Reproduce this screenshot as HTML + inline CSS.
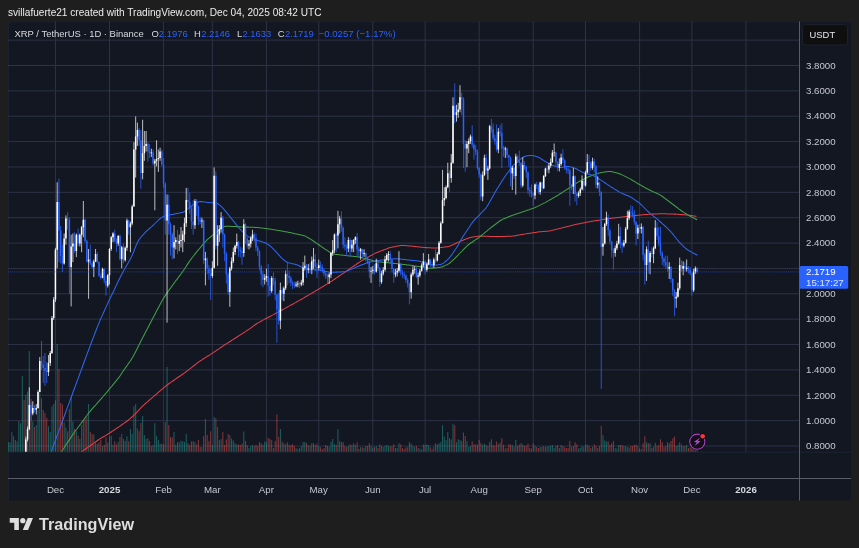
<!DOCTYPE html>
<html><head><meta charset="utf-8"><title>XRP / TetherUS chart</title>
<style>
html,body{margin:0;padding:0;background:#1e1e1e;}
body{width:859px;height:548px;overflow:hidden;position:relative;font-family:"Liberation Sans",sans-serif;}
#hdr{position:absolute;left:8px;top:6.5px;font-size:10.1px;color:#ececec;white-space:nowrap;letter-spacing:0px}
#chart{position:absolute;left:0;top:0;}
#logo{position:absolute;left:0;top:0;pointer-events:none}
</style></head><body>
<div id="hdr">svillafuerte21 created with TradingView.com, Dec 04, 2025 08:42 UTC</div>
<svg id="chart" width="859" height="548" viewBox="0 0 859 548" font-family="Liberation Sans, sans-serif">
<rect x="8" y="21.5" width="843" height="479.0" fill="#131722"/>
<path d="M8.5 500.5V22.0H851" fill="none" stroke="#1c2131" stroke-width="1"/>

<g stroke="#2d3246" stroke-width="1">
<line x1="8" y1="40.13333333333331" x2="799.5" y2="40.13333333333331"/>
<line x1="8" y1="65.5" x2="799.5" y2="65.5"/>
<line x1="8" y1="90.86666666666669" x2="799.5" y2="90.86666666666669"/>
<line x1="8" y1="116.23333333333332" x2="799.5" y2="116.23333333333332"/>
<line x1="8" y1="141.60000000000002" x2="799.5" y2="141.60000000000002"/>
<line x1="8" y1="166.96666666666664" x2="799.5" y2="166.96666666666664"/>
<line x1="8" y1="192.33333333333331" x2="799.5" y2="192.33333333333331"/>
<line x1="8" y1="217.70000000000002" x2="799.5" y2="217.70000000000002"/>
<line x1="8" y1="243.06666666666672" x2="799.5" y2="243.06666666666672"/>
<line x1="8" y1="268.4333333333334" x2="799.5" y2="268.4333333333334"/>
<line x1="8" y1="293.79999999999995" x2="799.5" y2="293.79999999999995"/>
<line x1="8" y1="319.16666666666663" x2="799.5" y2="319.16666666666663"/>
<line x1="8" y1="344.53333333333336" x2="799.5" y2="344.53333333333336"/>
<line x1="8" y1="369.90000000000003" x2="799.5" y2="369.90000000000003"/>
<line x1="8" y1="395.2666666666667" x2="799.5" y2="395.2666666666667"/>
<line x1="8" y1="420.6333333333334" x2="799.5" y2="420.6333333333334"/>
<line x1="8" y1="446.0" x2="799.5" y2="446.0"/>
<line x1="55.45" y1="21.5" x2="55.45" y2="452"/>
<line x1="109.5" y1="21.5" x2="109.5" y2="452"/>
<line x1="163.56" y1="21.5" x2="163.56" y2="452"/>
<line x1="212.38" y1="21.5" x2="212.38" y2="452"/>
<line x1="266.44" y1="21.5" x2="266.44" y2="452"/>
<line x1="318.75" y1="21.5" x2="318.75" y2="452"/>
<line x1="372.8" y1="21.5" x2="372.8" y2="452"/>
<line x1="425.11" y1="21.5" x2="425.11" y2="452"/>
<line x1="479.17" y1="21.5" x2="479.17" y2="452"/>
<line x1="533.22" y1="21.5" x2="533.22" y2="452"/>
<line x1="585.53" y1="21.5" x2="585.53" y2="452"/>
<line x1="639.59" y1="21.5" x2="639.59" y2="452"/>
<line x1="691.9" y1="21.5" x2="691.9" y2="452"/>
<line x1="745.96" y1="21.5" x2="745.96" y2="452"/>
</g>
<clipPath id="pc"><rect x="8" y="21.5" width="791.5" height="430.5"/></clipPath>
<g clip-path="url(#pc)">
<path d="M8.37 452v-10.0M10.11 452v-9.5M11.86 452v-20.0M13.60 452v-15.7M17.09 452v-10.7M18.83 452v-31.0M20.58 452v-28.8M22.32 452v-76.0M25.81 452v-57.0M27.55 452v-60.5M29.29 452v-101.0M32.78 452v-30.6M36.27 452v-27.0M38.01 452v-42.0M39.76 452v-63.0M48.48 452v-25.7M50.22 452v-20.0M51.96 452v-45.6M53.71 452v-48.0M55.45 452v-51.8M57.19 452v-108.0M64.17 452v-29.4M65.91 452v-24.4M71.14 452v-55.0M72.89 452v-30.6M76.37 452v-20.7M79.86 452v-13.2M81.61 452v-27.0M83.35 452v-32.0M88.58 452v-48.0M93.81 452v-17.6M95.56 452v-9.5M102.53 452v-5.7M107.76 452v-9.5M109.50 452v-15.7M111.25 452v-16.3M112.99 452v-7.0M118.22 452v-10.0M121.71 452v-18.0M125.20 452v-11.0M126.94 452v-15.7M130.43 452v-23.0M132.17 452v-18.0M133.92 452v-45.8M135.66 452v-48.0M137.40 452v-23.4M142.63 452v-36.0M144.38 452v-17.0M146.12 452v-13.0M151.35 452v-5.7M154.84 452v-28.8M156.58 452v-16.3M158.33 452v-12.0M160.07 452v-8.2M167.05 452v-85.0M174.02 452v-20.0M175.77 452v-7.2M179.25 452v-9.5M181.00 452v-11.3M182.74 452v-10.7M184.48 452v-10.0M186.23 452v-18.0M194.95 452v-10.0M201.92 452v-5.0M205.41 452v-33.0M212.38 452v-7.0M214.13 452v-35.0M217.61 452v-25.0M219.36 452v-12.0M221.10 452v-13.0M229.82 452v-17.0M231.56 452v-13.4M233.31 452v-11.5M235.05 452v-8.8M236.79 452v-7.4M243.77 452v-20.5M249.00 452v-4.0M250.74 452v-6.0M252.49 452v-7.0M264.69 452v-10.6M266.44 452v-9.7M271.67 452v-12.0M280.39 452v-23.0M283.87 452v-8.8M285.62 452v-7.8M296.08 452v-4.0M297.82 452v-3.0M301.31 452v-6.0M303.06 452v-10.0M304.80 452v-10.0M308.29 452v-7.0M311.77 452v-8.8M313.52 452v-9.0M318.75 452v-6.0M329.21 452v-5.0M330.95 452v-10.0M332.70 452v-13.0M334.44 452v-7.8M337.93 452v-22.7M339.67 452v-11.0M348.39 452v-6.0M351.88 452v-7.0M353.62 452v-8.8M355.37 452v-7.0M360.60 452v-4.7M364.08 452v-4.0M371.06 452v-6.0M372.80 452v-4.0M376.29 452v-6.0M381.52 452v-6.0M383.27 452v-5.0M385.01 452v-6.0M386.75 452v-7.0M388.50 452v-6.0M395.47 452v-4.0M397.22 452v-4.0M398.96 452v-8.8M411.16 452v-8.2M412.91 452v-6.0M414.65 452v-5.0M418.14 452v-4.0M419.88 452v-3.5M421.63 452v-2.8M423.37 452v-7.4M426.86 452v-7.4M428.60 452v-7.0M433.83 452v-5.0M437.32 452v-7.4M439.06 452v-8.8M440.81 452v-10.0M442.55 452v-26.8M444.30 452v-15.3M446.04 452v-12.0M447.78 452v-20.0M451.27 452v-12.5M453.01 452v-28.3M456.50 452v-9.7M458.24 452v-12.8M459.99 452v-12.0M466.96 452v-11.0M468.71 452v-5.0M470.45 452v-6.0M482.66 452v-7.3M484.40 452v-8.2M487.89 452v-6.0M489.63 452v-10.0M498.35 452v-7.8M505.32 452v-3.5M512.30 452v-7.0M515.79 452v-12.0M522.76 452v-7.4M534.97 452v-6.3M540.20 452v-5.0M543.69 452v-6.0M545.43 452v-5.0M548.92 452v-6.0M550.66 452v-6.3M552.40 452v-7.0M554.15 452v-4.0M559.38 452v-4.0M561.12 452v-7.0M573.33 452v-6.0M578.56 452v-3.5M580.30 452v-4.0M582.05 452v-6.0M585.53 452v-7.4M587.28 452v-7.4M592.51 452v-5.0M597.74 452v-4.0M602.97 452v-16.8M604.72 452v-11.5M606.46 452v-10.6M615.18 452v-4.0M616.92 452v-3.5M618.67 452v-7.0M623.90 452v-6.0M625.64 452v-5.6M627.38 452v-5.0M629.13 452v-4.5M637.85 452v-6.0M641.33 452v-3.0M646.56 452v-9.7M650.05 452v-8.8M653.54 452v-5.0M655.28 452v-9.3M669.23 452v-8.8M676.21 452v-6.0M677.95 452v-7.0M679.69 452v-9.7M683.18 452v-6.0M686.67 452v-7.0M693.64 452v-8.0M695.39 452v-5.0" stroke="#26a69a" stroke-opacity="0.5" stroke-width="1.05" fill="none"/>
<path d="M15.34 452v-12.0M24.06 452v-52.0M31.04 452v-53.0M34.53 452v-25.0M41.50 452v-53.7M43.24 452v-42.0M44.99 452v-39.0M46.73 452v-34.0M58.94 452v-83.0M60.68 452v-49.0M62.42 452v-47.4M67.66 452v-20.7M69.40 452v-43.0M74.63 452v-23.0M78.12 452v-16.3M85.09 452v-33.0M86.84 452v-35.6M90.32 452v-20.0M92.07 452v-18.0M97.30 452v-8.2M99.04 452v-9.5M100.79 452v-12.0M104.27 452v-7.0M106.02 452v-14.4M114.74 452v-10.7M116.48 452v-7.6M119.97 452v-15.0M123.45 452v-13.0M128.69 452v-10.7M139.15 452v-20.7M140.89 452v-29.0M147.87 452v-13.8M149.61 452v-11.0M153.10 452v-7.0M161.82 452v-8.2M163.56 452v-7.6M165.30 452v-30.0M168.79 452v-27.0M170.53 452v-15.0M172.28 452v-14.4M177.51 452v-10.0M187.97 452v-8.8M189.71 452v-7.0M191.46 452v-10.5M193.20 452v-10.7M196.69 452v-7.6M198.43 452v-12.0M200.18 452v-5.0M203.66 452v-16.0M207.15 452v-17.0M208.90 452v-10.7M210.64 452v-20.7M215.87 452v-33.7M222.85 452v-20.0M224.59 452v-7.0M226.33 452v-12.5M228.08 452v-18.0M238.54 452v-7.4M240.28 452v-7.0M242.03 452v-8.4M245.51 452v-11.0M247.26 452v-7.0M254.23 452v-6.0M255.98 452v-7.3M257.72 452v-6.0M259.46 452v-9.7M261.21 452v-8.8M262.95 452v-7.0M268.18 452v-14.3M269.93 452v-13.0M273.41 452v-4.0M275.16 452v-11.0M276.90 452v-37.6M278.64 452v-15.0M282.13 452v-10.6M287.36 452v-9.7M289.11 452v-7.0M290.85 452v-7.0M292.59 452v-7.8M294.34 452v-6.0M299.57 452v-4.0M306.54 452v-9.0M310.03 452v-6.0M315.26 452v-7.0M317.00 452v-8.4M320.49 452v-4.7M322.24 452v-3.0M323.98 452v-4.0M325.72 452v-7.0M327.47 452v-6.0M336.19 452v-7.0M341.42 452v-10.0M343.16 452v-9.7M344.90 452v-6.0M346.65 452v-5.0M350.14 452v-7.8M357.11 452v-9.7M358.85 452v-3.0M362.34 452v-4.7M365.83 452v-6.0M367.57 452v-6.0M369.32 452v-9.0M374.55 452v-5.0M378.03 452v-4.0M379.78 452v-7.8M390.24 452v-6.0M391.98 452v-5.4M393.73 452v-7.8M400.70 452v-7.4M402.45 452v-4.0M404.19 452v-3.0M405.93 452v-4.7M407.68 452v-4.7M409.42 452v-9.7M416.40 452v-6.0M425.11 452v-7.0M430.35 452v-4.7M432.09 452v-3.0M435.58 452v-8.8M449.53 452v-13.8M454.76 452v-26.8M461.73 452v-11.0M463.48 452v-19.5M465.22 452v-16.0M472.19 452v-10.6M473.94 452v-7.8M475.68 452v-7.4M477.43 452v-7.3M479.17 452v-12.0M480.91 452v-9.0M486.14 452v-7.3M491.38 452v-12.8M493.12 452v-7.0M494.86 452v-6.3M496.61 452v-10.6M500.09 452v-9.0M501.84 452v-13.8M503.58 452v-7.0M507.07 452v-4.0M508.81 452v-7.8M510.56 452v-7.4M514.04 452v-5.0M517.53 452v-6.0M519.27 452v-7.4M521.02 452v-8.8M524.51 452v-6.3M526.25 452v-6.0M527.99 452v-8.2M529.74 452v-4.0M531.48 452v-3.5M533.22 452v-8.8M536.71 452v-5.0M538.45 452v-4.0M541.94 452v-5.0M547.17 452v-5.4M555.89 452v-6.0M557.64 452v-7.0M562.87 452v-6.0M564.61 452v-4.7M566.35 452v-4.0M568.10 452v-4.0M569.84 452v-11.0M571.59 452v-5.0M575.07 452v-9.7M576.82 452v-7.8M583.79 452v-5.0M589.02 452v-6.3M590.77 452v-4.0M594.25 452v-7.4M596.00 452v-6.0M599.48 452v-6.0M601.23 452v-26.0M608.20 452v-10.6M609.95 452v-7.0M611.69 452v-8.8M613.43 452v-11.0M620.41 452v-7.0M622.15 452v-7.0M630.87 452v-6.0M632.61 452v-6.0M634.36 452v-7.0M636.10 452v-7.4M639.59 452v-3.5M643.08 452v-8.8M644.82 452v-15.8M648.31 452v-8.8M651.80 452v-4.0M657.03 452v-6.3M658.77 452v-7.0M660.51 452v-12.8M662.26 452v-9.7M664.00 452v-5.0M665.75 452v-6.0M667.49 452v-9.7M670.98 452v-11.0M672.72 452v-13.4M674.46 452v-15.6M681.44 452v-7.4M684.93 452v-6.0M688.41 452v-4.0M690.16 452v-4.7M691.90 452v-7.4M697.13 452v-3.0" stroke="#ef5350" stroke-opacity="0.5" stroke-width="1.05" fill="none"/>
<path d="M79.5 453.7 L80.5 452.8 L81.5 451.9 L82.5 451.1 L83.5 450.4 L84.5 449.7 L85.5 449.0 L86.5 448.3 L87.5 447.6 L88.5 446.9 L89.5 446.2 L90.5 445.5 L91.5 444.8 L92.5 444.1 L93.5 443.4 L94.5 442.6 L95.5 441.9 L96.5 441.2 L97.5 440.5 L98.5 439.8 L99.5 439.1 L100.5 438.5 L101.5 437.9 L102.5 437.3 L103.5 436.7 L104.5 436.2 L105.5 435.6 L106.5 435.0 L107.5 434.4 L108.5 433.8 L109.5 433.2 L110.5 432.5 L111.5 431.8 L112.5 431.1 L113.5 430.5 L114.5 429.8 L115.5 429.1 L116.5 428.4 L117.5 427.7 L118.5 427.1 L119.5 426.4 L120.5 425.7 L121.5 425.0 L122.5 424.3 L123.5 423.6 L124.5 422.9 L125.5 422.2 L126.5 421.5 L127.5 420.8 L128.5 420.0 L129.5 419.2 L130.5 418.3 L131.5 417.4 L132.5 416.5 L133.5 415.6 L134.5 414.7 L135.5 413.7 L136.5 412.6 L137.5 411.5 L138.5 410.4 L139.5 409.4 L140.5 408.3 L141.5 407.2 L142.5 406.2 L143.5 405.3 L144.5 404.4 L145.5 403.5 L146.5 402.7 L147.5 401.8 L148.5 400.9 L149.5 400.0 L150.5 399.2 L151.5 398.3 L152.5 397.4 L153.5 396.6 L154.5 395.7 L155.5 394.8 L156.5 394.0 L157.5 393.1 L158.5 392.2 L159.5 391.3 L160.5 390.5 L161.5 389.6 L162.5 388.8 L163.5 388.0 L164.5 387.1 L165.5 386.3 L166.5 385.5 L167.5 384.8 L168.5 384.0 L169.5 383.3 L170.5 382.6 L171.5 381.9 L172.5 381.2 L173.5 380.5 L174.5 379.8 L175.5 379.1 L176.5 378.4 L177.5 377.7 L178.5 377.0 L179.5 376.3 L180.5 375.7 L181.5 375.0 L182.5 374.3 L183.5 373.6 L184.5 372.9 L185.5 372.2 L186.5 371.4 L187.5 370.7 L188.5 369.9 L189.5 369.1 L190.5 368.3 L191.5 367.6 L192.5 366.8 L193.5 366.0 L194.5 365.2 L195.5 364.5 L196.5 363.7 L197.5 362.9 L198.5 362.2 L199.5 361.4 L200.5 360.7 L201.5 360.1 L202.5 359.4 L203.5 358.8 L204.5 358.2 L205.5 357.6 L206.5 356.9 L207.5 356.3 L208.5 355.7 L209.5 355.1 L210.5 354.4 L211.5 353.8 L212.5 353.1 L213.5 352.4 L214.5 351.8 L215.5 351.1 L216.5 350.4 L217.5 349.7 L218.5 349.1 L219.5 348.4 L220.5 347.7 L221.5 347.0 L222.5 346.4 L223.5 345.7 L224.5 345.0 L225.5 344.4 L226.5 343.7 L227.5 343.1 L228.5 342.5 L229.5 341.8 L230.5 341.2 L231.5 340.5 L232.5 339.9 L233.5 339.2 L234.5 338.6 L235.5 338.0 L236.5 337.3 L237.5 336.7 L238.5 336.0 L239.5 335.4 L240.5 334.8 L241.5 334.1 L242.5 333.5 L243.5 332.9 L244.5 332.2 L245.5 331.6 L246.5 330.9 L247.5 330.3 L248.5 329.6 L249.5 328.9 L250.5 328.2 L251.5 327.4 L252.5 326.7 L253.5 325.9 L254.5 325.2 L255.5 324.5 L256.5 323.8 L257.5 323.2 L258.5 322.6 L259.5 322.1 L260.5 321.5 L261.5 321.0 L262.5 320.4 L263.5 319.9 L264.5 319.4 L265.5 318.8 L266.5 318.3 L267.5 317.8 L268.5 317.2 L269.5 316.7 L270.5 316.2 L271.5 315.6 L272.5 315.1 L273.5 314.6 L274.5 314.0 L275.5 313.5 L276.5 312.9 L277.5 312.4 L278.5 311.9 L279.5 311.3 L280.5 310.8 L281.5 310.2 L282.5 309.7 L283.5 309.2 L284.5 308.6 L285.5 308.1 L286.5 307.5 L287.5 307.0 L288.5 306.4 L289.5 305.9 L290.5 305.3 L291.5 304.8 L292.5 304.2 L293.5 303.7 L294.5 303.1 L295.5 302.6 L296.5 302.0 L297.5 301.5 L298.5 300.9 L299.5 300.4 L300.5 299.8 L301.5 299.2 L302.5 298.7 L303.5 298.1 L304.5 297.5 L305.5 296.9 L306.5 296.3 L307.5 295.7 L308.5 295.1 L309.5 294.6 L310.5 294.0 L311.5 293.4 L312.5 292.8 L313.5 292.2 L314.5 291.6 L315.5 291.0 L316.5 290.4 L317.5 289.8 L318.5 289.2 L319.5 288.6 L320.5 288.0 L321.5 287.4 L322.5 286.8 L323.5 286.2 L324.5 285.6 L325.5 285.0 L326.5 284.4 L327.5 283.8 L328.5 283.2 L329.5 282.5 L330.5 281.9 L331.5 281.3 L332.5 280.6 L333.5 279.9 L334.5 279.2 L335.5 278.5 L336.5 277.9 L337.5 277.2 L338.5 276.5 L339.5 275.8 L340.5 275.1 L341.5 274.4 L342.5 273.8 L343.5 273.1 L344.5 272.4 L345.5 271.7 L346.5 271.0 L347.5 270.3 L348.5 269.6 L349.5 269.0 L350.5 268.3 L351.5 267.6 L352.5 266.9 L353.5 266.2 L354.5 265.5 L355.5 264.9 L356.5 264.2 L357.5 263.5 L358.5 262.8 L359.5 262.1 L360.5 261.5 L361.5 260.9 L362.5 260.3 L363.5 259.8 L364.5 259.2 L365.5 258.6 L366.5 258.1 L367.5 257.5 L368.5 256.9 L369.5 256.4 L370.5 255.8 L371.5 255.2 L372.5 254.7 L373.5 254.1 L374.5 253.6 L375.5 253.1 L376.5 252.7 L377.5 252.3 L378.5 251.9 L379.5 251.5 L380.5 251.1 L381.5 250.8 L382.5 250.4 L383.5 250.0 L384.5 249.6 L385.5 249.3 L386.5 248.9 L387.5 248.5 L388.5 248.1 L389.5 247.8 L390.5 247.5 L391.5 247.3 L392.5 247.0 L393.5 246.9 L394.5 246.7 L395.5 246.5 L396.5 246.3 L397.5 246.1 L398.5 245.9 L399.5 245.7 L400.5 245.5 L401.5 245.5 L402.5 245.4 L403.5 245.5 L404.5 245.5 L405.5 245.6 L406.5 245.7 L407.5 245.8 L408.5 245.9 L409.5 246.0 L410.5 246.0 L411.5 246.1 L412.5 246.2 L413.5 246.3 L414.5 246.4 L415.5 246.5 L416.5 246.7 L417.5 246.8 L418.5 246.9 L419.5 247.0 L420.5 247.1 L421.5 247.2 L422.5 247.3 L423.5 247.4 L424.5 247.5 L425.5 247.6 L426.5 247.6 L427.5 247.7 L428.5 247.7 L429.5 247.8 L430.5 247.8 L431.5 247.9 L432.5 247.9 L433.5 248.0 L434.5 248.0 L435.5 248.0 L436.5 248.0 L437.5 247.9 L438.5 247.8 L439.5 247.7 L440.5 247.6 L441.5 247.4 L442.5 247.3 L443.5 247.2 L444.5 247.1 L445.5 247.0 L446.5 246.8 L447.5 246.7 L448.5 246.5 L449.5 246.2 L450.5 245.8 L451.5 245.4 L452.5 244.9 L453.5 244.5 L454.5 244.0 L455.5 243.5 L456.5 243.0 L457.5 242.6 L458.5 242.1 L459.5 241.6 L460.5 241.2 L461.5 240.8 L462.5 240.4 L463.5 240.0 L464.5 239.6 L465.5 239.2 L466.5 238.8 L467.5 238.4 L468.5 238.0 L469.5 237.7 L470.5 237.4 L471.5 237.2 L472.5 237.0 L473.5 236.9 L474.5 236.7 L475.5 236.6 L476.5 236.4 L477.5 236.3 L478.5 236.2 L479.5 236.1 L480.5 236.1 L481.5 236.1 L482.5 236.1 L483.5 236.2 L484.5 236.2 L485.5 236.2 L486.5 236.3 L487.5 236.3 L488.5 236.3 L489.5 236.4 L490.5 236.4 L491.5 236.4 L492.5 236.5 L493.5 236.5 L494.5 236.5 L495.5 236.6 L496.5 236.6 L497.5 236.6 L498.5 236.5 L499.5 236.5 L500.5 236.5 L501.5 236.5 L502.5 236.4 L503.5 236.4 L504.5 236.4 L505.5 236.4 L506.5 236.3 L507.5 236.3 L508.5 236.3 L509.5 236.3 L510.5 236.3 L511.5 236.2 L512.5 236.1 L513.5 236.0 L514.5 235.9 L515.5 235.7 L516.5 235.5 L517.5 235.3 L518.5 235.1 L519.5 235.0 L520.5 234.8 L521.5 234.6 L522.5 234.4 L523.5 234.2 L524.5 234.1 L525.5 233.9 L526.5 233.8 L527.5 233.6 L528.5 233.5 L529.5 233.3 L530.5 233.2 L531.5 233.0 L532.5 232.8 L533.5 232.7 L534.5 232.5 L535.5 232.4 L536.5 232.2 L537.5 232.1 L538.5 232.0 L539.5 231.8 L540.5 231.7 L541.5 231.7 L542.5 231.6 L543.5 231.5 L544.5 231.4 L545.5 231.3 L546.5 231.3 L547.5 231.2 L548.5 231.1 L549.5 230.9 L550.5 230.8 L551.5 230.6 L552.5 230.3 L553.5 230.1 L554.5 229.8 L555.5 229.6 L556.5 229.3 L557.5 229.1 L558.5 228.8 L559.5 228.6 L560.5 228.3 L561.5 228.1 L562.5 227.8 L563.5 227.6 L564.5 227.3 L565.5 227.0 L566.5 226.8 L567.5 226.5 L568.5 226.3 L569.5 226.0 L570.5 225.8 L571.5 225.5 L572.5 225.2 L573.5 225.0 L574.5 224.8 L575.5 224.5 L576.5 224.3 L577.5 224.1 L578.5 223.9 L579.5 223.7 L580.5 223.5 L581.5 223.3 L582.5 223.1 L583.5 222.9 L584.5 222.7 L585.5 222.5 L586.5 222.3 L587.5 222.1 L588.5 221.9 L589.5 221.7 L590.5 221.5 L591.5 221.3 L592.5 221.2 L593.5 221.0 L594.5 220.8 L595.5 220.7 L596.5 220.5 L597.5 220.4 L598.5 220.2 L599.5 220.1 L600.5 219.9 L601.5 219.8 L602.5 219.6 L603.5 219.5 L604.5 219.3 L605.5 219.2 L606.5 219.0 L607.5 218.9 L608.5 218.7 L609.5 218.6 L610.5 218.4 L611.5 218.3 L612.5 218.1 L613.5 218.0 L614.5 217.9 L615.5 217.8 L616.5 217.7 L617.5 217.5 L618.5 217.4 L619.5 217.3 L620.5 217.2 L621.5 217.1 L622.5 216.9 L623.5 216.8 L624.5 216.7 L625.5 216.6 L626.5 216.5 L627.5 216.4 L628.5 216.2 L629.5 216.1 L630.5 216.0 L631.5 215.9 L632.5 215.8 L633.5 215.7 L634.5 215.6 L635.5 215.5 L636.5 215.4 L637.5 215.3 L638.5 215.2 L639.5 215.1 L640.5 215.0 L641.5 214.9 L642.5 214.8 L643.5 214.7 L644.5 214.6 L645.5 214.5 L646.5 214.4 L647.5 214.4 L648.5 214.3 L649.5 214.3 L650.5 214.2 L651.5 214.2 L652.5 214.1 L653.5 214.1 L654.5 214.0 L655.5 214.0 L656.5 213.9 L657.5 213.9 L658.5 213.8 L659.5 213.8 L660.5 213.7 L661.5 213.7 L662.5 213.8 L663.5 213.8 L664.5 213.8 L665.5 213.8 L666.5 213.9 L667.5 213.9 L668.5 213.9 L669.5 213.9 L670.5 214.0 L671.5 214.0 L672.5 214.0 L673.5 214.1 L674.5 214.1 L675.5 214.1 L676.5 214.2 L677.5 214.3 L678.5 214.3 L679.5 214.4 L680.5 214.5 L681.5 214.6 L682.5 214.6 L683.5 214.7 L684.5 214.8 L685.5 214.9 L686.5 215.0 L687.5 215.1 L688.5 215.2 L689.5 215.3 L690.5 215.5 L691.5 215.6 L692.5 215.7 L693.5 215.9 L694.5 216.0 L695.5 216.2 L696.5 216.3" stroke="#e0404a" stroke-width="1.05" fill="none" stroke-linejoin="round"/>
<path d="M60.1 453.7 L61.1 452.2 L62.1 450.7 L63.1 449.2 L64.1 447.7 L65.1 446.1 L66.1 444.6 L67.1 443.1 L68.1 441.6 L69.1 440.1 L70.1 438.6 L71.1 437.1 L72.1 435.6 L73.1 434.1 L74.1 432.7 L75.1 431.3 L76.1 430.0 L77.1 428.7 L78.1 427.3 L79.1 426.0 L80.1 424.6 L81.1 423.3 L82.1 421.9 L83.1 420.6 L84.1 419.2 L85.1 417.9 L86.1 416.5 L87.1 415.2 L88.1 413.8 L89.1 412.5 L90.1 411.3 L91.1 410.1 L92.1 408.9 L93.1 407.8 L94.1 406.7 L95.1 405.6 L96.1 404.5 L97.1 403.3 L98.1 402.2 L99.1 401.1 L100.1 399.9 L101.1 398.8 L102.1 397.6 L103.1 396.5 L104.1 395.3 L105.1 394.2 L106.1 393.0 L107.1 391.8 L108.1 390.6 L109.1 389.4 L110.1 388.2 L111.1 387.0 L112.1 385.8 L113.1 384.6 L114.1 383.4 L115.1 382.2 L116.1 380.9 L117.1 379.7 L118.1 378.4 L119.1 377.1 L120.1 375.7 L121.1 374.2 L122.1 372.7 L123.1 371.2 L124.1 369.7 L125.1 368.3 L126.1 366.9 L127.1 365.5 L128.1 364.0 L129.1 362.6 L130.1 361.2 L131.1 359.7 L132.1 358.1 L133.1 356.4 L134.1 354.6 L135.1 352.7 L136.1 350.7 L137.1 348.7 L138.1 346.7 L139.1 344.7 L140.1 342.7 L141.1 340.7 L142.1 338.8 L143.1 336.8 L144.1 334.9 L145.1 333.0 L146.1 331.1 L147.1 329.2 L148.1 327.2 L149.1 325.3 L150.1 323.4 L151.1 321.5 L152.1 319.6 L153.1 317.7 L154.1 315.8 L155.1 313.9 L156.1 312.0 L157.1 310.1 L158.1 308.2 L159.1 306.3 L160.1 304.4 L161.1 302.5 L162.1 300.7 L163.1 299.0 L164.1 297.4 L165.1 295.9 L166.1 294.4 L167.1 292.9 L168.1 291.5 L169.1 290.0 L170.1 288.6 L171.1 287.3 L172.1 285.9 L173.1 284.5 L174.1 283.1 L175.1 281.8 L176.1 280.4 L177.1 279.1 L178.1 277.7 L179.1 276.4 L180.1 275.1 L181.1 273.7 L182.1 272.4 L183.1 271.0 L184.1 269.5 L185.1 268.0 L186.1 266.5 L187.1 264.9 L188.1 263.4 L189.1 261.9 L190.1 260.5 L191.1 259.1 L192.1 257.8 L193.1 256.5 L194.1 255.2 L195.1 253.9 L196.1 252.7 L197.1 251.4 L198.1 250.2 L199.1 249.0 L200.1 247.8 L201.1 246.6 L202.1 245.4 L203.1 244.2 L204.1 243.1 L205.1 241.9 L206.1 240.8 L207.1 239.8 L208.1 238.9 L209.1 238.1 L210.1 237.3 L211.1 236.5 L212.1 235.7 L213.1 234.9 L214.1 234.1 L215.1 233.3 L216.1 232.5 L217.1 231.7 L218.1 230.9 L219.1 230.1 L220.1 229.3 L221.1 228.5 L222.1 227.7 L223.1 227.1 L224.1 226.6 L225.1 226.3 L226.1 226.2 L227.1 226.2 L228.1 226.3 L229.1 226.3 L230.1 226.3 L231.1 226.4 L232.1 226.4 L233.1 226.4 L234.1 226.5 L235.1 226.5 L236.1 226.6 L237.1 226.6 L238.1 226.7 L239.1 226.7 L240.1 226.8 L241.1 226.9 L242.1 226.9 L243.1 227.0 L244.1 227.0 L245.1 227.0 L246.1 227.1 L247.1 227.1 L248.1 227.1 L249.1 227.2 L250.1 227.2 L251.1 227.2 L252.1 227.3 L253.1 227.3 L254.1 227.3 L255.1 227.4 L256.1 227.4 L257.1 227.5 L258.1 227.6 L259.1 227.7 L260.1 227.8 L261.1 227.9 L262.1 228.1 L263.1 228.2 L264.1 228.3 L265.1 228.5 L266.1 228.6 L267.1 228.7 L268.1 228.8 L269.1 229.0 L270.1 229.1 L271.1 229.2 L272.1 229.4 L273.1 229.6 L274.1 229.7 L275.1 229.9 L276.1 230.1 L277.1 230.3 L278.1 230.4 L279.1 230.6 L280.1 230.8 L281.1 231.0 L282.1 231.1 L283.1 231.3 L284.1 231.5 L285.1 231.7 L286.1 231.8 L287.1 232.0 L288.1 232.2 L289.1 232.4 L290.1 232.6 L291.1 232.8 L292.1 233.0 L293.1 233.2 L294.1 233.4 L295.1 233.7 L296.1 233.9 L297.1 234.1 L298.1 234.4 L299.1 234.6 L300.1 234.8 L301.1 235.0 L302.1 235.3 L303.1 235.5 L304.1 235.8 L305.1 236.1 L306.1 236.6 L307.1 237.1 L308.1 237.7 L309.1 238.3 L310.1 238.9 L311.1 239.5 L312.1 240.1 L313.1 240.8 L314.1 241.5 L315.1 242.2 L316.1 242.9 L317.1 243.6 L318.1 244.3 L319.1 245.0 L320.1 245.7 L321.1 246.4 L322.1 247.1 L323.1 247.8 L324.1 248.5 L325.1 249.1 L326.1 249.8 L327.1 250.4 L328.1 251.1 L329.1 251.8 L330.1 252.4 L331.1 253.0 L332.1 253.5 L333.1 253.9 L334.1 254.1 L335.1 254.3 L336.1 254.4 L337.1 254.5 L338.1 254.6 L339.1 254.8 L340.1 254.9 L341.1 255.0 L342.1 255.1 L343.1 255.2 L344.1 255.3 L345.1 255.4 L346.1 255.6 L347.1 255.7 L348.1 255.8 L349.1 255.9 L350.1 256.0 L351.1 256.1 L352.1 256.2 L353.1 256.3 L354.1 256.4 L355.1 256.5 L356.1 256.6 L357.1 256.7 L358.1 256.8 L359.1 257.0 L360.1 257.2 L361.1 257.4 L362.1 257.7 L363.1 258.0 L364.1 258.2 L365.1 258.5 L366.1 258.7 L367.1 259.0 L368.1 259.3 L369.1 259.5 L370.1 259.8 L371.1 260.1 L372.1 260.4 L373.1 260.7 L374.1 260.9 L375.1 261.2 L376.1 261.5 L377.1 261.7 L378.1 261.8 L379.1 262.0 L380.1 262.0 L381.1 262.1 L382.1 262.2 L383.1 262.3 L384.1 262.4 L385.1 262.5 L386.1 262.6 L387.1 262.6 L388.1 262.7 L389.1 262.8 L390.1 262.9 L391.1 263.0 L392.1 263.1 L393.1 263.2 L394.1 263.4 L395.1 263.5 L396.1 263.6 L397.1 263.7 L398.1 263.8 L399.1 263.9 L400.1 264.0 L401.1 264.2 L402.1 264.3 L403.1 264.4 L404.1 264.5 L405.1 264.6 L406.1 264.7 L407.1 264.9 L408.1 265.0 L409.1 265.1 L410.1 265.2 L411.1 265.3 L412.1 265.5 L413.1 265.6 L414.1 265.8 L415.1 265.9 L416.1 266.1 L417.1 266.3 L418.1 266.4 L419.1 266.6 L420.1 266.8 L421.1 267.0 L422.1 267.1 L423.1 267.3 L424.1 267.4 L425.1 267.6 L426.1 267.8 L427.1 267.9 L428.1 268.0 L429.1 268.2 L430.1 268.3 L431.1 268.3 L432.1 268.3 L433.1 268.2 L434.1 268.1 L435.1 268.0 L436.1 267.8 L437.1 267.7 L438.1 267.6 L439.1 267.4 L440.1 267.3 L441.1 267.1 L442.1 266.9 L443.1 266.5 L444.1 266.1 L445.1 265.6 L446.1 265.1 L447.1 264.7 L448.1 264.1 L449.1 263.5 L450.1 262.8 L451.1 261.9 L452.1 261.0 L453.1 260.0 L454.1 259.1 L455.1 258.1 L456.1 257.1 L457.1 256.1 L458.1 255.1 L459.1 254.0 L460.1 253.0 L461.1 252.0 L462.1 251.0 L463.1 249.9 L464.1 248.9 L465.1 247.9 L466.1 246.9 L467.1 245.9 L468.1 245.0 L469.1 244.2 L470.1 243.5 L471.1 242.8 L472.1 242.2 L473.1 241.5 L474.1 240.8 L475.1 240.1 L476.1 239.5 L477.1 238.8 L478.1 238.1 L479.1 237.3 L480.1 236.6 L481.1 235.8 L482.1 234.9 L483.1 234.1 L484.1 233.3 L485.1 232.4 L486.1 231.6 L487.1 230.8 L488.1 229.9 L489.1 229.1 L490.1 228.3 L491.1 227.5 L492.1 226.8 L493.1 226.0 L494.1 225.3 L495.1 224.5 L496.1 223.8 L497.1 223.0 L498.1 222.3 L499.1 221.5 L500.1 220.8 L501.1 220.2 L502.1 219.6 L503.1 219.1 L504.1 218.7 L505.1 218.3 L506.1 217.9 L507.1 217.5 L508.1 217.0 L509.1 216.6 L510.1 216.2 L511.1 215.8 L512.1 215.4 L513.1 215.1 L514.1 214.7 L515.1 214.4 L516.1 214.0 L517.1 213.7 L518.1 213.4 L519.1 213.0 L520.1 212.7 L521.1 212.4 L522.1 212.0 L523.1 211.7 L524.1 211.4 L525.1 211.0 L526.1 210.7 L527.1 210.3 L528.1 210.0 L529.1 209.7 L530.1 209.3 L531.1 209.0 L532.1 208.6 L533.1 208.3 L534.1 207.9 L535.1 207.5 L536.1 207.1 L537.1 206.6 L538.1 206.1 L539.1 205.6 L540.1 205.1 L541.1 204.6 L542.1 204.1 L543.1 203.6 L544.1 203.1 L545.1 202.6 L546.1 202.1 L547.1 201.5 L548.1 200.9 L549.1 200.4 L550.1 199.8 L551.1 199.2 L552.1 198.6 L553.1 198.0 L554.1 197.5 L555.1 196.9 L556.1 196.3 L557.1 195.7 L558.1 195.1 L559.1 194.5 L560.1 193.8 L561.1 193.2 L562.1 192.5 L563.1 191.9 L564.1 191.3 L565.1 190.6 L566.1 190.0 L567.1 189.3 L568.1 188.7 L569.1 188.0 L570.1 187.4 L571.1 186.7 L572.1 186.0 L573.1 185.4 L574.1 184.7 L575.1 184.0 L576.1 183.4 L577.1 182.7 L578.1 182.1 L579.1 181.5 L580.1 181.0 L581.1 180.5 L582.1 180.0 L583.1 179.5 L584.1 179.0 L585.1 178.5 L586.1 178.0 L587.1 177.5 L588.1 177.0 L589.1 176.6 L590.1 176.2 L591.1 175.8 L592.1 175.4 L593.1 175.1 L594.1 174.8 L595.1 174.5 L596.1 174.1 L597.1 173.8 L598.1 173.5 L599.1 173.1 L600.1 172.9 L601.1 172.6 L602.1 172.4 L603.1 172.3 L604.1 172.1 L605.1 172.0 L606.1 171.8 L607.1 171.7 L608.1 171.6 L609.1 171.5 L610.1 171.5 L611.1 171.6 L612.1 171.8 L613.1 172.0 L614.1 172.3 L615.1 172.5 L616.1 172.7 L617.1 173.0 L618.1 173.3 L619.1 173.6 L620.1 174.0 L621.1 174.4 L622.1 174.9 L623.1 175.4 L624.1 175.9 L625.1 176.4 L626.1 176.9 L627.1 177.4 L628.1 177.9 L629.1 178.4 L630.1 178.9 L631.1 179.5 L632.1 180.1 L633.1 180.7 L634.1 181.3 L635.1 181.9 L636.1 182.5 L637.1 183.1 L638.1 183.7 L639.1 184.3 L640.1 184.8 L641.1 185.4 L642.1 186.0 L643.1 186.5 L644.1 187.1 L645.1 187.7 L646.1 188.2 L647.1 188.8 L648.1 189.3 L649.1 189.8 L650.1 190.3 L651.1 190.8 L652.1 191.2 L653.1 191.7 L654.1 192.1 L655.1 192.6 L656.1 193.0 L657.1 193.5 L658.1 193.9 L659.1 194.4 L660.1 195.0 L661.1 195.6 L662.1 196.3 L663.1 197.0 L664.1 197.8 L665.1 198.5 L666.1 199.3 L667.1 200.0 L668.1 200.8 L669.1 201.5 L670.1 202.3 L671.1 203.0 L672.1 203.8 L673.1 204.5 L674.1 205.3 L675.1 206.0 L676.1 206.8 L677.1 207.5 L678.1 208.3 L679.1 209.1 L680.1 209.8 L681.1 210.5 L682.1 211.3 L683.1 211.9 L684.1 212.6 L685.1 213.2 L686.1 213.8 L687.1 214.4 L688.1 215.0 L689.1 215.6 L690.1 216.2 L691.1 216.8 L692.1 217.3 L693.1 217.8 L694.1 218.3 L695.1 218.7 L696.1 219.2 L697.1 219.7" stroke="#43a047" stroke-width="1.05" fill="none" stroke-linejoin="round"/>
<path d="M50.5 453.7 L51.5 451.0 L52.5 448.2 L53.5 445.5 L54.5 442.8 L55.5 440.1 L56.5 437.3 L57.5 434.6 L58.5 431.9 L59.5 429.2 L60.5 426.4 L61.5 423.7 L62.5 421.0 L63.5 418.3 L64.5 415.5 L65.5 412.8 L66.5 410.1 L67.5 407.4 L68.5 404.6 L69.5 401.9 L70.5 399.2 L71.5 396.5 L72.5 393.7 L73.5 391.0 L74.5 388.3 L75.5 385.6 L76.5 382.8 L77.5 380.1 L78.5 377.4 L79.5 374.7 L80.5 371.9 L81.5 369.2 L82.5 366.5 L83.5 363.8 L84.5 361.0 L85.5 358.3 L86.5 355.6 L87.5 352.9 L88.5 350.2 L89.5 347.6 L90.5 344.9 L91.5 342.3 L92.5 339.7 L93.5 337.1 L94.5 334.4 L95.5 331.8 L96.5 329.2 L97.5 326.6 L98.5 324.1 L99.5 321.6 L100.5 319.3 L101.5 317.1 L102.5 314.9 L103.5 312.7 L104.5 310.5 L105.5 308.3 L106.5 306.1 L107.5 303.9 L108.5 301.8 L109.5 299.7 L110.5 297.6 L111.5 295.6 L112.5 293.5 L113.5 291.4 L114.5 289.2 L115.5 287.0 L116.5 284.9 L117.5 282.8 L118.5 280.7 L119.5 278.7 L120.5 276.7 L121.5 274.8 L122.5 272.9 L123.5 271.1 L124.5 269.3 L125.5 267.6 L126.5 265.8 L127.5 264.1 L128.5 262.3 L129.5 260.6 L130.5 258.8 L131.5 256.8 L132.5 254.6 L133.5 252.2 L134.5 249.6 L135.5 246.9 L136.5 244.5 L137.5 242.4 L138.5 240.5 L139.5 239.0 L140.5 237.7 L141.5 236.5 L142.5 235.4 L143.5 234.3 L144.5 233.3 L145.5 232.2 L146.5 231.2 L147.5 230.3 L148.5 229.4 L149.5 228.5 L150.5 227.7 L151.5 226.8 L152.5 225.9 L153.5 225.0 L154.5 224.0 L155.5 223.0 L156.5 222.0 L157.5 221.0 L158.5 220.0 L159.5 219.1 L160.5 218.3 L161.5 217.6 L162.5 217.0 L163.5 216.5 L164.5 216.1 L165.5 215.8 L166.5 215.5 L167.5 215.3 L168.5 215.1 L169.5 215.0 L170.5 214.8 L171.5 214.6 L172.5 214.4 L173.5 214.2 L174.5 214.0 L175.5 213.8 L176.5 213.6 L177.5 213.4 L178.5 213.2 L179.5 213.0 L180.5 212.8 L181.5 212.6 L182.5 212.4 L183.5 212.0 L184.5 211.5 L185.5 210.9 L186.5 210.1 L187.5 209.2 L188.5 208.4 L189.5 207.5 L190.5 206.7 L191.5 205.9 L192.5 205.2 L193.5 204.6 L194.5 204.0 L195.5 203.4 L196.5 202.8 L197.5 202.3 L198.5 201.9 L199.5 201.7 L200.5 201.6 L201.5 201.6 L202.5 201.7 L203.5 201.9 L204.5 202.0 L205.5 202.1 L206.5 202.3 L207.5 202.4 L208.5 202.5 L209.5 202.6 L210.5 202.7 L211.5 202.7 L212.5 202.8 L213.5 202.9 L214.5 203.0 L215.5 203.0 L216.5 203.2 L217.5 203.6 L218.5 204.2 L219.5 204.9 L220.5 205.8 L221.5 206.7 L222.5 207.7 L223.5 208.8 L224.5 209.9 L225.5 211.1 L226.5 212.4 L227.5 213.6 L228.5 214.8 L229.5 216.1 L230.5 217.3 L231.5 218.6 L232.5 219.8 L233.5 221.1 L234.5 222.4 L235.5 223.6 L236.5 224.9 L237.5 226.1 L238.5 227.4 L239.5 228.5 L240.5 229.6 L241.5 230.7 L242.5 231.7 L243.5 232.6 L244.5 233.6 L245.5 234.5 L246.5 235.3 L247.5 236.1 L248.5 236.7 L249.5 237.2 L250.5 237.6 L251.5 238.0 L252.5 238.4 L253.5 238.9 L254.5 239.3 L255.5 239.7 L256.5 240.0 L257.5 240.4 L258.5 240.7 L259.5 241.0 L260.5 241.3 L261.5 241.6 L262.5 241.9 L263.5 242.2 L264.5 242.5 L265.5 243.0 L266.5 243.5 L267.5 244.1 L268.5 244.8 L269.5 245.5 L270.5 246.3 L271.5 247.2 L272.5 248.1 L273.5 249.0 L274.5 250.1 L275.5 251.1 L276.5 252.3 L277.5 253.4 L278.5 254.6 L279.5 255.7 L280.5 256.8 L281.5 257.9 L282.5 258.9 L283.5 259.7 L284.5 260.5 L285.5 261.2 L286.5 261.8 L287.5 262.3 L288.5 262.7 L289.5 263.0 L290.5 263.2 L291.5 263.5 L292.5 263.7 L293.5 263.9 L294.5 264.1 L295.5 264.4 L296.5 264.7 L297.5 265.1 L298.5 265.5 L299.5 266.0 L300.5 266.5 L301.5 267.0 L302.5 267.4 L303.5 267.8 L304.5 268.2 L305.5 268.5 L306.5 268.8 L307.5 269.1 L308.5 269.3 L309.5 269.5 L310.5 269.6 L311.5 269.7 L312.5 269.7 L313.5 269.8 L314.5 269.8 L315.5 269.9 L316.5 270.0 L317.5 270.1 L318.5 270.2 L319.5 270.3 L320.5 270.4 L321.5 270.6 L322.5 270.8 L323.5 270.9 L324.5 271.2 L325.5 271.4 L326.5 271.6 L327.5 271.8 L328.5 272.0 L329.5 272.1 L330.5 272.2 L331.5 272.3 L332.5 272.3 L333.5 272.3 L334.5 272.2 L335.5 272.2 L336.5 272.1 L337.5 272.1 L338.5 272.0 L339.5 272.0 L340.5 271.9 L341.5 271.9 L342.5 271.8 L343.5 271.8 L344.5 271.7 L345.5 271.5 L346.5 271.2 L347.5 270.8 L348.5 270.4 L349.5 270.0 L350.5 269.6 L351.5 269.1 L352.5 268.7 L353.5 268.3 L354.5 267.9 L355.5 267.4 L356.5 267.0 L357.5 266.6 L358.5 266.2 L359.5 265.7 L360.5 265.3 L361.5 264.9 L362.5 264.5 L363.5 264.2 L364.5 263.8 L365.5 263.4 L366.5 263.0 L367.5 262.6 L368.5 262.3 L369.5 262.1 L370.5 261.9 L371.5 261.7 L372.5 261.5 L373.5 261.3 L374.5 261.1 L375.5 260.9 L376.5 260.7 L377.5 260.5 L378.5 260.4 L379.5 260.3 L380.5 260.2 L381.5 260.1 L382.5 260.0 L383.5 259.9 L384.5 259.8 L385.5 259.7 L386.5 259.6 L387.5 259.5 L388.5 259.4 L389.5 259.2 L390.5 259.1 L391.5 259.0 L392.5 258.9 L393.5 258.8 L394.5 258.8 L395.5 258.8 L396.5 258.8 L397.5 258.9 L398.5 259.0 L399.5 259.0 L400.5 259.1 L401.5 259.2 L402.5 259.3 L403.5 259.4 L404.5 259.5 L405.5 259.6 L406.5 259.8 L407.5 259.9 L408.5 260.0 L409.5 260.1 L410.5 260.2 L411.5 260.3 L412.5 260.4 L413.5 260.5 L414.5 260.6 L415.5 260.7 L416.5 260.8 L417.5 260.9 L418.5 261.0 L419.5 261.2 L420.5 261.4 L421.5 261.8 L422.5 262.1 L423.5 262.5 L424.5 263.0 L425.5 263.4 L426.5 263.7 L427.5 264.0 L428.5 264.3 L429.5 264.5 L430.5 264.6 L431.5 264.7 L432.5 264.9 L433.5 265.0 L434.5 265.0 L435.5 265.0 L436.5 265.0 L437.5 264.9 L438.5 264.7 L439.5 264.6 L440.5 264.4 L441.5 264.1 L442.5 263.7 L443.5 263.1 L444.5 262.4 L445.5 261.5 L446.5 260.6 L447.5 259.7 L448.5 258.8 L449.5 257.7 L450.5 256.5 L451.5 255.1 L452.5 253.7 L453.5 252.2 L454.5 250.7 L455.5 249.3 L456.5 247.7 L457.5 246.1 L458.5 244.4 L459.5 242.6 L460.5 240.8 L461.5 239.0 L462.5 237.4 L463.5 235.8 L464.5 234.2 L465.5 232.7 L466.5 231.2 L467.5 229.7 L468.5 228.3 L469.5 226.8 L470.5 225.3 L471.5 223.8 L472.5 222.4 L473.5 221.1 L474.5 219.9 L475.5 218.8 L476.5 217.8 L477.5 216.8 L478.5 215.8 L479.5 214.8 L480.5 213.7 L481.5 212.7 L482.5 211.7 L483.5 210.7 L484.5 209.7 L485.5 208.6 L486.5 207.2 L487.5 205.7 L488.5 204.1 L489.5 202.3 L490.5 200.5 L491.5 198.7 L492.5 196.9 L493.5 195.1 L494.5 193.4 L495.5 191.6 L496.5 189.9 L497.5 188.3 L498.5 186.7 L499.5 185.1 L500.5 183.5 L501.5 181.9 L502.5 180.3 L503.5 178.7 L504.5 177.2 L505.5 175.7 L506.5 174.3 L507.5 173.0 L508.5 171.7 L509.5 170.4 L510.5 169.1 L511.5 167.8 L512.5 166.5 L513.5 165.3 L514.5 164.2 L515.5 163.2 L516.5 162.3 L517.5 161.5 L518.5 160.7 L519.5 159.9 L520.5 159.1 L521.5 158.3 L522.5 157.6 L523.5 157.0 L524.5 156.5 L525.5 156.2 L526.5 156.0 L527.5 155.8 L528.5 155.7 L529.5 155.5 L530.5 155.5 L531.5 155.5 L532.5 155.6 L533.5 155.8 L534.5 156.0 L535.5 156.3 L536.5 156.6 L537.5 156.9 L538.5 157.3 L539.5 157.8 L540.5 158.4 L541.5 159.0 L542.5 159.7 L543.5 160.4 L544.5 161.0 L545.5 161.6 L546.5 162.2 L547.5 162.8 L548.5 163.3 L549.5 163.8 L550.5 164.3 L551.5 164.8 L552.5 165.3 L553.5 165.7 L554.5 166.0 L555.5 166.3 L556.5 166.6 L557.5 166.8 L558.5 167.1 L559.5 167.3 L560.5 167.4 L561.5 167.4 L562.5 167.3 L563.5 167.1 L564.5 166.8 L565.5 166.6 L566.5 166.4 L567.5 166.4 L568.5 166.5 L569.5 166.7 L570.5 166.9 L571.5 167.1 L572.5 167.4 L573.5 167.7 L574.5 168.1 L575.5 168.5 L576.5 169.0 L577.5 169.5 L578.5 170.1 L579.5 170.6 L580.5 171.2 L581.5 171.8 L582.5 172.3 L583.5 172.7 L584.5 173.1 L585.5 173.5 L586.5 173.7 L587.5 174.0 L588.5 174.2 L589.5 174.5 L590.5 174.7 L591.5 175.0 L592.5 175.3 L593.5 175.8 L594.5 176.2 L595.5 176.8 L596.5 177.4 L597.5 178.0 L598.5 178.7 L599.5 179.3 L600.5 179.9 L601.5 180.6 L602.5 181.2 L603.5 181.9 L604.5 182.5 L605.5 183.2 L606.5 183.9 L607.5 184.6 L608.5 185.2 L609.5 185.9 L610.5 186.6 L611.5 187.2 L612.5 187.8 L613.5 188.5 L614.5 189.1 L615.5 189.7 L616.5 190.3 L617.5 190.9 L618.5 191.5 L619.5 192.1 L620.5 192.6 L621.5 193.1 L622.5 193.6 L623.5 194.0 L624.5 194.4 L625.5 194.8 L626.5 195.2 L627.5 195.6 L628.5 196.0 L629.5 196.5 L630.5 197.0 L631.5 197.6 L632.5 198.2 L633.5 198.9 L634.5 199.6 L635.5 200.3 L636.5 201.0 L637.5 201.7 L638.5 202.4 L639.5 203.2 L640.5 204.1 L641.5 205.0 L642.5 206.0 L643.5 207.0 L644.5 208.0 L645.5 209.0 L646.5 210.0 L647.5 211.0 L648.5 211.9 L649.5 212.8 L650.5 213.7 L651.5 214.5 L652.5 215.3 L653.5 216.1 L654.5 217.0 L655.5 217.8 L656.5 218.6 L657.5 219.4 L658.5 220.2 L659.5 221.1 L660.5 222.0 L661.5 222.9 L662.5 223.8 L663.5 224.7 L664.5 225.6 L665.5 226.5 L666.5 227.4 L667.5 228.4 L668.5 229.4 L669.5 230.4 L670.5 231.4 L671.5 232.5 L672.5 233.7 L673.5 234.9 L674.5 236.2 L675.5 237.5 L676.5 238.8 L677.5 240.0 L678.5 241.2 L679.5 242.3 L680.5 243.4 L681.5 244.4 L682.5 245.4 L683.5 246.3 L684.5 247.3 L685.5 248.2 L686.5 249.0 L687.5 249.8 L688.5 250.4 L689.5 251.0 L690.5 251.5 L691.5 252.1 L692.5 252.6 L693.5 253.2 L694.5 253.7 L695.5 254.2 L696.5 254.7 L697.5 255.2" stroke="#2f66f0" stroke-width="1.05" fill="none" stroke-linejoin="round"/>
<path d="M31.04 402.3V420.0M34.53 405.1V412.5M41.50 341.0V370.0M43.24 356.0V383.0M44.99 353.0V386.0M46.73 362.0V383.0M58.94 178.6V262.1M60.68 226.0V263.4M62.42 244.7V272.1M67.66 212.3V229.7M69.40 217.3V293.8M74.63 232.2V252.8M78.12 228.5V245.9M85.09 218.5V242.8M86.84 239.7V262.7M90.32 244.7V265.2M92.07 260.9V269.0M97.30 252.2V263.4M99.04 261.5V277.1M100.79 273.3V279.5M104.27 268.3V283.3M106.02 275.8V295.7M114.74 229.7V242.2M116.48 238.5V252.2M119.97 234.5V260.6M123.45 243.4V263.4M128.69 219.8V234.7M139.15 128.2V145.9M140.89 130.0V188.7M147.87 142.1V161.7M149.61 144.0V158.0M153.10 149.6V165.4M161.82 149.6V166.7M163.56 158.1V187.9M165.30 182.3V234.5M168.79 194.5V234.5M170.53 222.4V255.6M172.28 232.6V259.3M177.51 229.8V254.0M187.97 187.9V208.4M189.71 192.6V214.0M191.46 206.6V228.9M193.20 200.0V234.5M196.69 199.1V215.9M198.43 205.6V225.2M200.18 216.8V224.2M203.66 219.6V264.0M207.15 257.4V274.2M208.90 264.9V279.8M210.64 268.6V299.9M215.87 171.2V249.4M222.85 215.9V247.5M224.59 233.6V261.2M226.33 251.9V283.5M228.08 272.3V294.7M238.54 241.0V256.8M240.28 246.6V257.4M242.03 247.5V264.9M245.51 223.3V243.8M247.26 237.3V248.5M254.23 232.6V241.9M255.98 233.6V251.2M257.72 245.7V255.9M259.46 250.3V270.5M261.21 264.9V285.4M262.95 270.5V287.2M268.18 264.0V296.6M269.93 277.9V295.6M273.41 272.3V285.4M275.16 277.9V300.3M276.90 293.8V342.7M278.64 292.8V324.5M282.13 287.2V300.3M287.36 262.1V285.4M289.11 270.5V283.5M290.85 276.1V286.3M292.59 280.7V289.1M294.34 281.7V288.2M299.57 281.7V288.2M306.54 264.0V277.9M310.03 263.0V273.3M315.26 254.0V270.8M317.00 263.3V278.2M320.49 261.5V269.8M322.24 264.2V272.6M323.98 268.0V276.4M325.72 271.7V279.1M327.47 273.6V283.8M336.19 232.6V252.1M341.42 211.2V231.7M343.16 226.1V248.4M344.90 237.2V250.3M346.65 243.8V255.9M350.14 238.2V256.8M357.11 233.1V255.9M358.85 246.6V257.7M362.34 248.8V257.7M365.83 252.7V261.5M367.57 256.8V264.2M369.32 260.5V278.2M374.55 264.2V274.5M378.03 260.5V270.8M379.78 267.0V286.6M390.24 251.2V264.2M391.98 258.7V272.6M393.73 268.0V282.9M400.70 263.3V275.4M402.45 269.8V278.2M404.19 271.7V279.1M405.93 274.5V282.9M407.68 278.2V287.5M409.42 282.9V304.3M416.40 267.0V278.2M425.11 260.5V274.5M430.35 258.7V267.0M432.09 261.5V268.0M435.58 249.3V263.3M449.53 170.5V191.9M454.76 83.4V123.4M461.73 92.7V115.0M463.48 97.3V168.1M465.22 140.2V171.8M472.19 125.3V147.6M473.94 143.0V159.7M475.68 144.8V155.1M477.43 149.5V170.0M479.17 166.8V177.9M480.91 173.3V200.3M486.14 154.1V174.2M491.38 118.8V132.7M493.12 123.4V140.2M494.86 134.6V144.8M496.61 124.3V151.4M500.09 125.3V136.5M501.84 123.0V168.1M503.58 145.8V156.9M507.07 147.6V157.9M508.81 154.7V166.8M510.56 156.5V186.3M514.04 166.8V178.9M517.53 155.2V163.0M519.27 150.6V165.8M521.02 162.1V188.2M524.51 161.2V169.6M526.25 165.8V177.9M527.99 171.4V193.8M529.74 187.2V196.6M531.48 184.5V197.5M533.22 191.9V205.9M536.71 181.7V189.1M538.45 184.5V193.8M541.94 181.7V191.0M547.17 164.9V172.3M555.89 151.5V165.8M557.64 161.2V171.4M562.87 149.1V163.0M564.61 159.3V169.6M566.35 165.8V173.3M568.10 167.7V174.2M569.84 168.6V205.9M571.59 183.8V190.3M575.07 175.4V201.5M576.82 192.1V205.2M583.79 179.1V191.2M589.02 154.9V174.5M590.77 161.4V170.7M594.25 158.6V172.6M596.00 165.1V188.4M599.48 181.9V195.9M601.23 191.2V389.0M608.20 214.5V236.2M609.95 228.7V244.6M611.69 240.8V257.6M613.43 248.3V269.7M620.41 226.9V248.3M622.15 241.8V252.9M630.87 205.5V215.4M632.61 206.1V217.3M634.36 209.8V224.7M636.10 221.0V245.5M639.59 224.1V232.4M643.08 225.9V260.4M644.82 252.9V284.6M648.31 240.8V273.4M651.80 247.3V257.6M657.03 221.9V239.9M658.77 226.9V246.4M660.51 226.9V255.7M662.26 251.1V265.0M664.00 256.7V266.9M665.75 255.7V268.8M667.49 255.7V271.6M670.98 266.0V282.7M672.72 278.1V295.8M674.46 289.2V316.2M681.44 260.4V271.6M684.93 262.2V271.6M688.41 266.0V273.4M690.16 266.9V275.3M691.90 272.5V295.8M697.13 266.9V273.8" stroke="#2962ff" stroke-width="0.8" fill="none"/>
<path d="M24.06 452.6V464.3M25.81 436.7V456.3M27.55 426.5V441.4M29.29 387.4V430.2M32.78 401.3V415.3M36.27 404.1V414.4M38.01 390.2V408.8M39.76 357.0V392.0M48.48 355.0V376.0M50.22 351.0V366.0M51.96 316.0V354.0M53.71 297.0V320.0M55.45 247.8V302.0M57.19 182.3V268.3M64.17 233.5V264.6M65.91 215.4V244.7M71.14 234.7V306.4M72.89 233.5V262.1M76.37 233.5V257.1M79.86 233.5V246.5M81.61 226.0V252.2M83.35 201.0V237.2M88.58 249.0V298.8M93.81 259.6V277.1M95.56 249.0V262.1M102.53 267.7V278.3M107.76 273.9V287.6M109.50 248.2V284.5M111.25 236.0V250.9M112.99 232.2V242.2M118.22 235.0V245.9M121.71 245.9V268.3M125.20 246.5V261.5M126.94 218.5V250.9M130.43 221.6V252.2M132.17 204.7V225.2M133.92 142.1V206.6M135.66 116.4V177.5M137.40 122.6V145.9M142.63 119.8V179.4M144.38 131.0V160.8M146.12 131.0V151.5M151.35 148.7V157.0M154.84 158.9V210.3M156.58 140.3V166.4M158.33 149.6V171.9M160.07 147.7V160.8M167.05 194.5V322.6M174.02 225.2V258.4M175.77 237.3V249.4M179.25 234.5V251.2M181.00 227.0V247.5M182.74 230.8V252.2M184.48 217.7V241.9M186.23 187.9V227.0M194.95 199.1V228.9M201.92 217.7V228.0M205.41 251.9V285.4M212.38 261.2V277.9M214.13 167.4V268.6M217.61 225.2V265.8M219.36 225.2V241.9M221.10 212.1V232.6M229.82 266.8V306.8M231.56 257.4V270.5M233.31 247.5V263.0M235.05 244.7V255.0M236.79 233.6V248.5M243.77 219.2V256.8M249.00 240.1V249.4M250.74 236.4V247.5M252.49 229.8V241.0M264.69 274.2V284.5M266.44 268.6V281.7M271.67 276.1V292.8M280.39 282.6V329.1M283.87 286.3V301.2M285.62 270.5V290.0M296.08 281.7V287.2M297.82 280.7V287.2M301.31 279.8V286.3M303.06 262.1V285.4M304.80 255.6V270.5M308.29 264.0V273.3M311.77 256.5V274.2M313.52 248.0V268.9M318.75 259.6V269.8M329.21 272.6V283.8M330.95 252.1V278.2M332.70 240.0V255.9M334.44 233.5V253.1M337.93 210.8V248.4M339.67 215.8V233.5M348.39 237.2V252.1M351.88 240.0V252.1M353.62 239.1V252.1M355.37 236.3V243.8M360.60 248.0V259.6M364.08 249.3V256.8M371.06 267.0V282.9M372.80 266.1V273.6M376.29 258.7V272.6M381.52 270.8V283.8M383.27 267.0V275.4M385.01 255.9V271.7M386.75 253.1V261.5M388.50 251.2V261.5M395.47 268.9V277.3M397.22 268.0V276.4M398.96 251.2V272.6M411.16 272.6V298.7M412.91 266.1V276.4M414.65 266.1V273.6M418.14 272.6V284.7M419.88 268.9V277.3M421.63 263.3V271.7M423.37 253.1V267.0M426.86 262.4V271.7M428.60 254.0V265.2M433.83 257.7V268.0M437.32 252.1V261.5M439.06 241.0V254.9M440.81 221.4V243.8M442.55 169.9V223.3M444.30 187.2V205.9M446.04 185.4V199.3M447.78 162.7V188.2M451.27 154.1V182.6M453.01 97.3V164.0M456.50 104.8V121.6M458.24 102.9V117.8M459.99 85.2V112.2M466.96 141.1V167.2M468.71 138.3V153.2M470.45 134.6V143.9M482.66 171.4V201.2M484.40 154.7V176.1M487.89 165.8V179.8M489.63 124.9V169.6M498.35 128.1V153.2M505.32 146.7V157.9M512.30 165.8V190.0M515.79 153.7V194.7M522.76 157.4V187.2M534.97 183.5V199.3M540.20 181.7V194.7M543.69 175.1V189.1M545.43 167.7V177.0M548.92 163.0V173.3M550.66 158.4V167.7M552.40 150.0V163.0M554.15 143.5V156.5M559.38 158.4V171.4M561.12 153.7V165.8M573.33 167.9V194.0M578.56 191.2V197.7M580.30 187.5V195.9M582.05 175.4V190.3M585.53 170.7V186.6M587.28 154.0V173.5M592.51 157.7V169.8M597.74 176.3V188.4M602.97 226.9V255.7M604.72 222.8V244.6M606.46 211.7V225.9M615.18 245.5V256.7M616.92 240.8V250.1M618.67 223.8V244.6M623.90 239.9V247.3M625.64 226.9V243.6M627.38 210.8V229.7M629.13 209.8V220.1M637.85 224.7V239.0M641.33 223.4V233.4M646.56 246.4V280.9M650.05 251.1V274.3M653.54 246.4V263.2M655.28 220.1V249.2M669.23 262.2V279.0M676.21 292.0V307.9M677.95 282.7V297.6M679.69 257.6V290.2M683.18 261.3V275.3M686.67 259.5V271.6M693.64 268.8V292.0M695.39 266.3V273.8" stroke="#ffffff" stroke-width="0.8" fill="none" opacity="0.9"/>
<path d="M31.04 405.1V413.5M34.53 407.9V409.7M41.50 361.0V365.0M43.24 365.0V368.0M44.99 368.0V371.0M46.73 371.0V372.0M58.94 202.0V230.4M60.68 230.4V255.9M62.42 255.9V263.4M67.66 218.5V219.8M69.40 219.8V267.1M74.63 243.4V250.9M78.12 234.7V243.4M85.09 219.8V240.9M86.84 240.9V261.5M90.32 259.6V263.4M92.07 263.4V267.1M97.30 254.0V262.1M99.04 262.1V275.8M100.79 275.8V277.7M104.27 269.0V280.8M106.02 280.8V285.8M114.74 233.5V240.9M116.48 240.9V243.4M119.97 236.0V259.0M123.45 247.2V260.2M128.69 220.4V227.2M139.15 130.0V140.3M140.89 140.3V172.9M147.87 144.0V151.5M149.61 151.5V153.3M153.10 152.4V163.6M161.82 151.5V164.5M163.56 164.5V183.5M165.30 183.5V220.5M168.79 204.7V224.2M170.53 224.2V234.5M172.28 234.5V247.5M177.51 240.1V243.8M187.97 200.0V201.9M189.71 201.9V208.4M191.46 208.4V221.5M193.20 221.5V225.2M196.69 201.0V206.6M198.43 206.6V219.6M200.18 219.6V221.5M203.66 220.5V260.2M207.15 258.4V268.6M208.90 268.6V273.3M210.64 273.3V276.1M215.87 175.8V245.7M222.85 217.7V234.5M224.59 234.5V253.7M226.33 253.7V274.2M228.08 274.2V291.9M238.54 241.9V249.4M240.28 249.4V251.2M242.03 251.2V253.1M245.51 224.2V238.2M247.26 238.2V245.7M254.23 234.5V238.2M255.98 238.2V247.5M257.72 247.5V251.2M259.46 251.2V266.8M261.21 266.8V274.2M262.95 274.2V279.8M268.18 276.1V285.4M269.93 285.4V291.0M273.41 277.9V280.7M275.16 280.7V294.7M276.90 294.7V309.6M278.64 309.6V320.4M282.13 290.0V293.8M287.36 274.2V276.1M289.11 276.1V277.9M290.85 277.9V282.6M292.59 282.6V284.5M294.34 284.5V285.4M299.57 283.5V284.5M306.54 265.8V269.6M310.03 268.6V269.6M315.26 259.6V267.0M317.00 267.0V268.0M320.49 265.2V267.0M322.24 267.0V269.8M323.98 269.8V273.6M325.72 273.6V275.4M327.47 275.4V277.3M336.19 234.5V235.4M341.42 218.6V227.9M343.16 227.9V244.7M344.90 244.7V246.6M346.65 246.6V248.4M350.14 240.0V248.4M357.11 237.2V249.3M358.85 249.3V251.2M362.34 249.3V254.0M365.83 253.1V257.7M367.57 257.7V261.5M369.32 261.5V271.7M374.55 269.8V271.7M378.03 263.3V268.0M379.78 268.0V281.9M390.24 254.0V259.6M391.98 259.6V268.9M393.73 268.9V274.5M400.70 264.2V272.6M402.45 272.6V274.5M404.19 274.5V275.4M405.93 275.4V280.1M407.68 280.1V283.8M409.42 283.8V292.2M416.40 268.9V276.4M425.11 261.5V269.8M430.35 259.6V264.2M432.09 264.2V265.2M435.58 259.6V260.5M449.53 173.3V177.9M454.76 105.7V115.0M461.73 97.3V99.2M463.48 99.2V143.9M465.22 143.9V148.6M472.19 136.5V144.8M473.94 144.8V149.5M475.68 149.5V151.4M477.43 151.4V168.1M479.17 168.1V174.6M480.91 174.6V196.6M486.14 157.8V170.5M491.38 126.2V129.0M493.12 129.0V138.3M494.86 138.3V141.1M496.61 141.1V149.5M500.09 131.8V132.7M501.84 132.7V148.6M503.58 148.6V149.5M507.07 148.6V155.1M508.81 155.1V157.8M510.56 157.8V173.3M514.04 167.7V176.1M517.53 156.5V160.2M519.27 160.2V163.0M521.02 163.0V185.4M524.51 164.9V166.8M526.25 166.8V172.3M527.99 172.3V190.0M529.74 190.0V191.0M531.48 191.0V193.8M533.22 193.8V195.6M536.71 184.5V186.3M538.45 186.3V191.9M541.94 182.6V188.2M547.17 168.6V169.6M555.89 152.4V162.1M557.64 162.1V167.7M562.87 157.4V160.2M564.61 160.2V167.7M566.35 167.7V169.6M568.10 169.6V170.5M569.84 170.5V185.4M571.59 185.4V186.6M575.07 176.3V194.0M576.82 194.0V195.9M583.79 181.0V185.6M589.02 162.3V163.3M590.77 163.3V167.9M594.25 161.4V166.1M596.00 166.1V184.7M599.48 182.8V192.1M601.23 192.1V246.8M608.20 217.6V230.4M609.95 230.4V241.8M611.69 241.8V250.1M613.43 250.1V252.9M620.41 236.2V243.6M622.15 243.6V245.5M630.87 211.7V212.6M632.61 212.6V214.5M634.36 214.5V221.9M636.10 221.9V233.4M639.59 227.8V228.7M643.08 226.9V254.8M644.82 254.8V265.0M648.31 249.2V262.2M651.80 252.9V253.9M657.03 227.8V236.2M658.77 236.2V243.6M660.51 243.6V252.9M662.26 252.9V258.5M664.00 258.5V262.2M665.75 262.2V265.0M667.49 265.0V268.8M670.98 266.9V279.0M672.72 279.0V290.2M674.46 290.2V298.6M681.44 265.0V268.8M684.93 266.0V268.8M688.41 267.8V269.7M690.16 269.7V273.4M691.90 273.4V290.2M697.13 268.2V271.9" stroke="#2962ff" stroke-width="1.5" fill="none"/>
<path d="M24.06 456.3V464.3M25.81 439.5V456.3M27.55 429.3V439.5M29.29 405.1V429.3M32.78 407.9V413.5M36.27 407.9V409.7M38.01 392.0V407.9M39.76 361.0V392.0M48.48 363.0V372.0M50.22 353.0V363.0M51.96 318.0V353.0M53.71 299.5V318.0M55.45 249.7V299.5M57.19 202.0V249.7M64.17 238.5V263.4M65.91 218.5V238.5M71.14 246.5V267.1M72.89 243.4V246.5M76.37 234.7V250.9M79.86 234.7V243.4M81.61 227.2V234.7M83.35 219.8V227.2M88.58 259.6V261.5M93.81 261.5V267.1M95.56 254.0V261.5M102.53 269.0V277.7M107.76 275.2V285.8M109.50 249.0V275.2M111.25 237.2V249.0M112.99 233.5V237.2M118.22 236.0V243.4M121.71 247.2V259.0M125.20 247.8V260.2M126.94 220.4V247.8M130.43 223.5V227.2M132.17 206.6V223.5M133.92 149.6V206.6M135.66 136.6V149.6M137.40 130.0V136.6M142.63 153.3V172.9M144.38 145.9V153.3M146.12 144.0V145.9M151.35 152.4V153.3M154.84 160.8V163.6M156.58 158.9V160.8M158.33 158.0V158.9M160.07 151.5V158.0M167.05 204.7V220.5M174.02 241.9V247.5M175.77 240.1V241.9M179.25 241.0V243.8M181.00 240.1V241.0M182.74 234.5V240.1M184.48 223.3V234.5M186.23 200.0V223.3M194.95 201.0V225.2M201.92 220.5V221.5M205.41 258.4V260.2M212.38 267.7V276.1M214.13 175.8V267.7M217.61 234.5V245.7M219.36 228.9V234.5M221.10 217.7V228.9M229.82 268.6V291.9M231.56 261.2V268.6M233.31 251.9V261.2M235.05 245.7V251.9M236.79 241.9V245.7M243.77 224.2V253.1M249.00 243.8V245.7M250.74 238.2V243.8M252.49 234.5V238.2M264.69 277.9V279.8M266.44 276.1V277.9M271.67 277.9V291.0M280.39 290.0V320.4M283.87 288.2V293.8M285.62 274.2V288.2M296.08 284.5V285.4M297.82 283.5V284.5M301.31 282.6V284.5M303.06 267.7V282.6M304.80 265.8V267.7M308.29 268.6V269.6M311.77 261.2V269.6M313.52 259.6V261.2M318.75 265.2V268.0M329.21 274.5V277.3M330.95 253.1V274.5M332.70 250.3V253.1M334.44 234.5V250.3M337.93 224.2V235.4M339.67 218.6V224.2M348.39 240.0V248.4M351.88 244.7V248.4M353.62 240.0V244.7M355.37 237.2V240.0M360.60 249.3V251.2M364.08 253.1V254.0M371.06 270.8V271.7M372.80 269.8V270.8M376.29 263.3V271.7M381.52 273.6V281.9M383.27 269.8V273.6M385.01 259.6V269.8M386.75 254.9V259.6M388.50 254.0V254.9M395.47 272.6V274.5M397.22 270.8V272.6M398.96 264.2V270.8M411.16 274.5V292.2M412.91 269.8V274.5M414.65 268.9V269.8M418.14 275.4V276.4M419.88 270.8V275.4M421.63 265.2V270.8M423.37 261.5V265.2M426.86 264.2V269.8M428.60 259.6V264.2M433.83 259.6V265.2M437.32 254.0V260.5M439.06 242.8V254.0M440.81 223.3V242.8M442.55 200.3V223.3M444.30 198.0V200.3M446.04 187.2V198.0M447.78 173.3V187.2M451.27 162.7V177.9M453.01 105.7V162.7M456.50 112.2V115.0M458.24 109.5V112.2M459.99 97.3V109.5M466.96 143.9V148.6M468.71 141.1V143.9M470.45 136.5V141.1M482.66 175.1V196.6M484.40 157.8V175.1M487.89 168.6V170.5M489.63 126.2V168.6M498.35 131.8V149.5M505.32 148.6V149.5M512.30 167.7V173.3M515.79 156.5V176.1M522.76 164.9V185.4M534.97 184.5V195.6M540.20 182.6V191.9M543.69 176.1V188.2M545.43 168.6V176.1M548.92 165.8V169.6M550.66 162.1V165.8M552.40 152.8V162.1M554.15 152.4V153.0M559.38 164.0V167.7M561.12 157.4V164.0M573.33 176.3V186.6M578.56 193.1V195.9M580.30 189.3V193.1M582.05 181.0V189.3M585.53 172.6V185.6M587.28 162.3V172.6M592.51 161.4V167.9M597.74 182.8V184.7M602.97 243.6V246.8M604.72 224.1V243.6M606.46 217.6V224.1M615.18 248.3V252.9M616.92 243.6V248.3M618.67 236.2V243.6M623.90 242.7V245.5M625.64 228.7V242.7M627.38 218.2V228.7M629.13 211.7V218.2M637.85 227.8V233.4M641.33 226.9V228.7M646.56 249.2V265.0M650.05 252.9V262.2M653.54 248.3V253.9M655.28 227.8V248.3M669.23 266.9V268.8M676.21 296.7V298.6M677.95 288.3V296.7M679.69 265.0V288.3M683.18 266.0V268.8M686.67 267.8V268.8M693.64 271.6V290.2M695.39 268.2V271.6" stroke="#ffffff" stroke-width="1.5" fill="none"/>
</g>
<line x1="8" y1="271.9" x2="799.5" y2="271.9" stroke="#2962ff" stroke-width="1" stroke-dasharray="0.95 1" opacity="0.55"/>
<line x1="8" y1="452.2" x2="851" y2="452.2" stroke="#1f2434" stroke-width="1"/>
<line x1="799.5" y1="21.5" x2="799.5" y2="500.5" stroke="#5a5d68" stroke-width="1"/>
<line x1="8" y1="478.5" x2="851" y2="478.5" stroke="#5a5d68" stroke-width="1"/>
<g fill="#c5c8d0" font-size="9.7">
<text x="806" y="68.7">3.8000</text>
<text x="806" y="94.1">3.6000</text>
<text x="806" y="119.4">3.4000</text>
<text x="806" y="144.8">3.2000</text>
<text x="806" y="170.2">3.0000</text>
<text x="806" y="195.5">2.8000</text>
<text x="806" y="220.9">2.6000</text>
<text x="806" y="246.3">2.4000</text>
<text x="806" y="271.6">2.2000</text>
<text x="806" y="297.0">2.0000</text>
<text x="806" y="322.4">1.8000</text>
<text x="806" y="347.7">1.6000</text>
<text x="806" y="373.1">1.4000</text>
<text x="806" y="398.5">1.2000</text>
<text x="806" y="423.8">1.0000</text>
<text x="806" y="449.2">0.8000</text>
</g>
<rect x="799.5" y="266" width="48.700000000000045" height="22.8" rx="1.5" fill="#2962ff"/>
<g fill="#ffffff" font-size="9.7"><text x="806" y="275">2.1719</text><text x="806" y="285.5" fill="#dbe5ff">15:17:27</text></g>
<rect x="802.5" y="24.6" width="45" height="20.4" rx="3" fill="#0f0f10" stroke="#1e212b" stroke-width="1"/>
<text x="809.6" y="37.6" font-size="9.4" fill="#e6e8ee">USDT</text>
<text x="55.5" y="493.4" font-size="9.7" fill="#c5c8d0" text-anchor="middle">Dec</text>
<text x="109.5" y="493.4" font-size="9.7" font-weight="bold" fill="#d6d8de" text-anchor="middle">2025</text>
<text x="163.6" y="493.4" font-size="9.7" fill="#c5c8d0" text-anchor="middle">Feb</text>
<text x="212.4" y="493.4" font-size="9.7" fill="#c5c8d0" text-anchor="middle">Mar</text>
<text x="266.4" y="493.4" font-size="9.7" fill="#c5c8d0" text-anchor="middle">Apr</text>
<text x="318.7" y="493.4" font-size="9.7" fill="#c5c8d0" text-anchor="middle">May</text>
<text x="372.8" y="493.4" font-size="9.7" fill="#c5c8d0" text-anchor="middle">Jun</text>
<text x="425.1" y="493.4" font-size="9.7" fill="#c5c8d0" text-anchor="middle">Jul</text>
<text x="479.2" y="493.4" font-size="9.7" fill="#c5c8d0" text-anchor="middle">Aug</text>
<text x="533.2" y="493.4" font-size="9.7" fill="#c5c8d0" text-anchor="middle">Sep</text>
<text x="585.5" y="493.4" font-size="9.7" fill="#c5c8d0" text-anchor="middle">Oct</text>
<text x="639.6" y="493.4" font-size="9.7" fill="#c5c8d0" text-anchor="middle">Nov</text>
<text x="691.9" y="493.4" font-size="9.7" fill="#c5c8d0" text-anchor="middle">Dec</text>
<text x="746.0" y="493.4" font-size="9.7" font-weight="bold" fill="#d6d8de" text-anchor="middle">2026</text>
<text y="36.6" font-size="9.45" fill="#d8dae0"><tspan x="14.5">XRP / TetherUS · 1D · Binance</tspan><tspan x="151.5">O</tspan><tspan x="158.8" fill="#2962ff">2.1976</tspan><tspan x="193.9">H</tspan><tspan x="201.2" fill="#2962ff">2.2146</tspan><tspan x="236.9">L</tspan><tspan x="242.5" fill="#2962ff">2.1633</tspan><tspan x="277.7">C</tspan><tspan x="285" fill="#2962ff">2.1719</tspan><tspan x="318.6" fill="#2962ff" textLength="77" lengthAdjust="spacingAndGlyphs">−0.0257 (−1.17%)</tspan></text>
<g transform="translate(697.3 441.7)"><circle r="8.6" fill="#0c0b10"/><circle r="7.6" fill="#121016" stroke="#a83fc4" stroke-width="1.1"/><path d="M2.7 -4 L-3.5 0.3 L-0.5 0.5 L-2.7 4.4 L3.4 -0.4 L0.5 -0.6 Z" fill="#b347d1"/><circle cx="5.4" cy="-5.5" r="3.1" fill="#0c0b10"/><circle cx="5.4" cy="-5.5" r="2.3" fill="#f23645"/></g>
</svg>
<svg id="logo" width="859" height="548" viewBox="0 0 859 548"><g transform="translate(9.7 515.5) scale(0.655)" fill="#dedede"><path d="M14 22H7V11H0V4h14v18zM28 22h-8l7.5-18h8L28 22z"/><circle cx="20" cy="8" r="4"/></g><text x="39" y="529.8" font-family="Liberation Sans, sans-serif" font-weight="bold" font-size="16" fill="#dedede" textLength="95" lengthAdjust="spacingAndGlyphs">TradingView</text></svg>
</body></html>
